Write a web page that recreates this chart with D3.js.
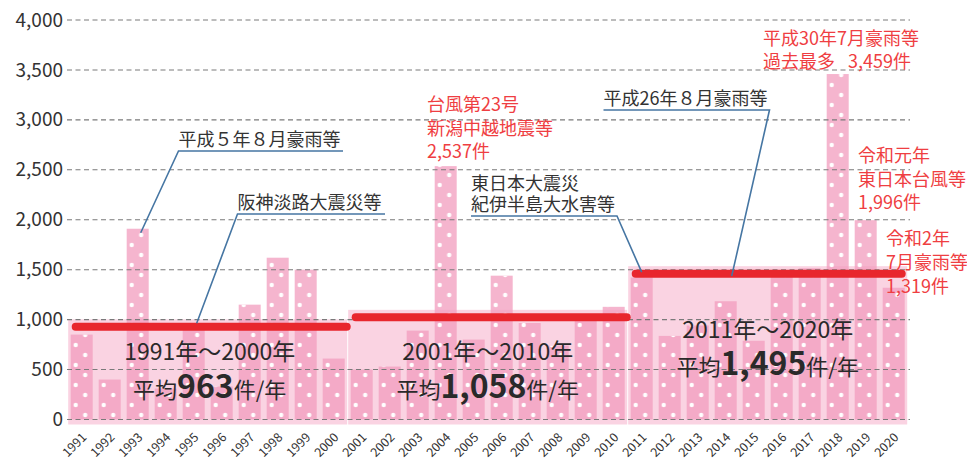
<!DOCTYPE html>
<html><head><meta charset="utf-8">
<script src="https://cdn.jsdelivr.net/npm/d3@7"></script>
<style>
body{margin:0;background:#fff;}
svg{display:block;font-family:"Noto Sans CJK JP","Noto Sans",sans-serif;}
</style></head>
<body><svg id="chart" width="967" height="461"></svg>
<script>
const years = ["1991","1992","1993","1994","1995","1996","1997","1998","1999","2000",
  "2001","2002","2003","2004","2005","2006","2007","2008","2009","2010",
  "2011","2012","2013","2014","2015","2016","2017","2018","2019","2020"];
const counts = [850,400,1910,310,950,330,1150,1620,1500,610,
  500,530,890,2537,800,1440,966,740,1048,1128,
  1422,837,941,1184,788,1492,1514,3459,1996,1319];
const decadeFirst = ["1991","2001","2011"];
const decadeLast = ["2000","2010","2020"];
const decadeRange = ["1991年～2000年","2001年～2010年","2011年～2020年"];
const decadeAvg = [963,1058,1495];
const decadeAvgLabel = ["963","1,058","1,495"];
const yTicks = [0,500,1000,1500,2000,2500,3000,3500,4000];

const svg = d3.select("#chart");
const x = d3.scaleBand().domain(years).range([67.7,907.7]).paddingInner(0.214).paddingOuter(0.107);
const y = d3.scaleLinear().domain([0,4000]).range([419.5,20]);
const bw = x.bandwidth();
const cx = d => x(d) + bw/2;

const defs = svg.append("defs");
const pat = defs.append("pattern").attr("id","dots").attr("patternUnits","userSpaceOnUse")
  .attr("x", x("1991")).attr("y", 0).attr("width", x.step()).attr("height", 20);
pat.append("circle").attr("cx",5).attr("cy",5).attr("r",2.2).attr("fill","#fff");
pat.append("circle").attr("cx",14.5).attr("cy",15).attr("r",2.2).attr("fill","#fff");

// decade backgrounds
const bgG = svg.append("g");
decadeAvg.forEach((a,i)=>{
  const x0 = x(decadeFirst[i]) - 2.5, x1 = x(decadeLast[i]) + bw + 2.5;
  bgG.append("rect").attr("x",x0).attr("width",x1-x0)
    .attr("y", y(a)-4).attr("height", y(0)+5 - (y(a)-4))
    .attr("fill","#fad3e2");
});

// bars
const barG = svg.append("g");
barG.selectAll("rect.bar").data(years).join("rect").attr("class","bar")
  .attr("x", d=>x(d)).attr("width", bw)
  .attr("y", (d,i)=>y(counts[i])).attr("height",(d,i)=>y(0)-y(counts[i]))
  .attr("fill","#f29bbd").attr("fill-opacity",0.74);
barG.selectAll("rect.dot").data(years).join("rect").attr("class","dot")
  .attr("x", d=>x(d)).attr("width", bw)
  .attr("y", (d,i)=>y(counts[i])).attr("height",(d,i)=>y(0)-y(counts[i]))
  .attr("fill","url(#dots)");

// gridlines
const gridG = svg.append("g");
gridG.selectAll("line").data(yTicks).join("line")
  .attr("x1",67).attr("x2",910).attr("y1",d=>y(d)).attr("y2",d=>y(d))
  .attr("stroke","#7a7a7a").attr("stroke-width",1.1).attr("stroke-dasharray","5,3.5");

// y axis labels
const yAxis = d3.axisLeft(y).tickValues(yTicks).tickFormat(d3.format(",")).tickSize(0).tickPadding(0);
const ya = svg.append("g").attr("transform","translate(63,0)").call(yAxis);
ya.select(".domain").remove();
ya.selectAll("text").attr("font-size",19).attr("fill","#333")
  .attr("font-family",'"Noto Sans CJK JP",sans-serif');

// x axis labels
const xAxis = d3.axisBottom(x).tickSize(0).tickPadding(0);
const xa = svg.append("g").call(xAxis);
xa.select(".domain").remove();
xa.selectAll(".tick").attr("transform", d=>`translate(${cx(d)+2.5},435)`);
xa.selectAll("text").attr("transform","rotate(-45)").attr("text-anchor","end")
  .attr("y",0).attr("dy","0.35em").attr("font-size",12.5).attr("fill","#333")
  .attr("font-family",'"Noto Sans CJK JP",sans-serif');

// red average lines
const redG = svg.append("g");
decadeAvg.forEach((a,i)=>{
  const x0 = x(decadeFirst[i]) + 5, x1 = x(decadeLast[i]) + bw + (i===2?-3:2);
  redG.append("line").attr("x1",x0).attr("x2",x1).attr("y1",y(a)+3.5).attr("y2",y(a)+3.5)
    .attr("stroke","#e8262d").attr("stroke-width",8).attr("stroke-linecap","round");
});

// decade texts
const dtPos = [{dx:2,b1:360,b2:398},{dx:0,b1:360,b2:398},{dx:0,b1:338,b2:375}];
const txtG = svg.append("g").attr("fill","#2a2a2a");
decadeAvg.forEach((a,i)=>{
  const mid = (x(decadeFirst[i]) + x(decadeLast[i]) + bw)/2 + dtPos[i].dx;
  txtG.append("text").attr("x",mid).attr("y",dtPos[i].b1).attr("text-anchor","middle")
    .attr("font-size",23).text(decadeRange[i]);
  const t = txtG.append("text").attr("x",mid).attr("y",dtPos[i].b2).attr("text-anchor","middle").attr("font-size",22);
  t.append("tspan").text("平均");
  t.append("tspan").attr("font-size",32).attr("font-weight","bold").text(decadeAvgLabel[i]);
  t.append("tspan").text("件/年");
});

// black annotations with leader lines
const leaderColor = "#4676a3";
const annG = svg.append("g");
function callout(lines, tx, ulY, ulX1, end, lh){
  lines.forEach((s,k)=>{
    annG.append("text").attr("x",tx).attr("y", ulY - 5 - (lines.length-1-k)*lh)
      .attr("font-size",18).attr("fill","#333").text(s);
  });
  annG.append("polyline")
    .attr("points", end.from==="left"
      ? [[end.x,end.y],[tx,ulY],[ulX1,ulY]].join(" ")
      : [[tx,ulY],[ulX1,ulY],[end.x,end.y]].join(" "))
    .attr("fill","none").attr("stroke",leaderColor).attr("stroke-width",1.6);
}
callout(["平成５年８月豪雨等"], 178.5, 151, 343, {from:"left", x:cx("1993")+3, y:y(counts[2])+4}, 21);
callout(["阪神淡路大震災等"], 237.5, 214, 385, {from:"left", x:cx("1995")+3, y:y(decadeAvg[0])}, 21);
callout(["東日本大震災","紀伊半島大水害等"], 471, 216, 617, {from:"right", x:cx("2011"), y:y(decadeAvg[2])+2}, 21);
callout(["平成26年８月豪雨等"], 603.5, 110, 769.5, {from:"right", x:cx("2014")+6, y:y(decadeAvg[2])+6}, 21);

// red annotations
const red = "#ef3e42";
function redNote(lines, tx, b0, lh){
  lines.forEach((s,k)=>{
    const t = annG.append("text").attr("x",tx).attr("y",b0 + k*lh).attr("font-size",18).attr("fill",red);
    if (Array.isArray(s)) { t.append("tspan").text(s[0]); t.append("tspan").attr("dx",13).text(s[1]); }
    else t.text(s);
  });
}
redNote(["台風第23号","新潟中越地震等","2,537件"], 427, 111, 23.5);
redNote(["平成30年7月豪雨等",["過去最多","3,459件"]], 763, 44.5, 23.5);
redNote(["令和元年","東日本台風等","1,996件"], 858, 162, 23.5);
redNote(["令和2年","7月豪雨等","1,319件"], 886, 244.5, 24);
</script></body></html>
